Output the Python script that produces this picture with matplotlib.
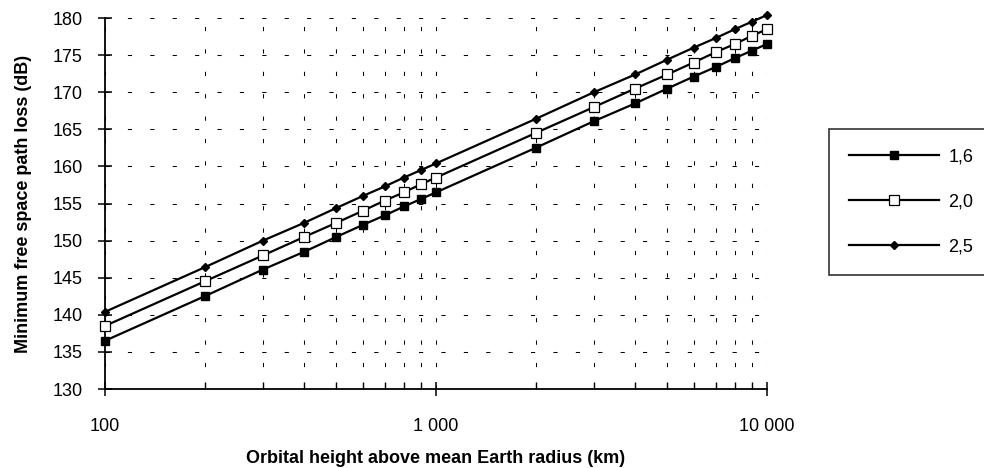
import matplotlib
matplotlib.use("Agg")
import matplotlib.pyplot as plt
from matplotlib.ticker import FixedLocator, FixedFormatter, NullFormatter

plt.rcParams['font.family'] = ['Liberation Sans', 'DejaVu Sans']

heights = [100, 200, 300, 400, 500, 600, 700, 800, 900, 1000,
           2000, 3000, 4000, 5000, 6000, 7000, 8000, 9000, 10000]
loss_16 = [136.5, 142.5, 146.1, 148.5, 150.5, 152.1, 153.4, 154.6, 155.6, 156.5,
           162.5, 166.1, 168.5, 170.5, 172.1, 173.4, 174.6, 175.6, 176.5]
loss_20 = [138.5, 144.5, 148.0, 150.5, 152.4, 154.0, 155.4, 156.5, 157.6, 158.5,
           164.5, 168.0, 170.5, 172.4, 174.0, 175.4, 176.5, 177.6, 178.5]
loss_25 = [140.4, 146.4, 150.0, 152.4, 154.4, 156.0, 157.3, 158.5, 159.5, 160.4,
           166.4, 170.0, 172.4, 174.4, 176.0, 177.3, 178.5, 179.5, 180.4]
series_labels = ["1,6", "2,0", "2,5"]

x_major = [100, 1000, 10000]
x_major_labels = ["100", "1 000", "10 000"]
x_minor = [200, 300, 400, 500, 600, 700, 800, 900,
           2000, 3000, 4000, 5000, 6000, 7000, 8000, 9000]
y_ticks = [130, 135, 140, 145, 150, 155, 160, 165, 170, 175, 180]

fig = plt.figure(figsize=(9.84, 4.68), dpi=100)
ax = fig.add_axes([0.1067, 0.1688, 0.6728, 0.7927])

ax.set_xscale('log')
ax.set_xlim(100, 10000)
ax.set_ylim(130, 180)

grid_style = dict(color='black', linewidth=0.75, linestyle=(0, (4, 17.5)))
ax.xaxis.set_major_locator(FixedLocator(x_major))
ax.xaxis.set_major_formatter(FixedFormatter(x_major_labels))
ax.xaxis.set_minor_locator(FixedLocator(x_minor))
ax.xaxis.set_minor_formatter(NullFormatter())
ax.yaxis.set_major_locator(FixedLocator(y_ticks))
ax.grid(True, which='major', axis='both', **grid_style)
ax.grid(True, which='minor', axis='x', **grid_style)
ax.set_axisbelow(True)

ax.plot(heights, loss_16, color='black', linewidth=1.6, marker='s', markersize=5.3,
        markerfacecolor='black', markeredgecolor='black', label=series_labels[0],
        zorder=3, clip_on=False)
ax.plot(heights, loss_20, color='black', linewidth=1.6, marker='s', markersize=6.8,
        markerfacecolor='white', markeredgecolor='black', markeredgewidth=0.9,
        label=series_labels[1], zorder=3, clip_on=False)
ax.plot(heights, loss_25, color='black', linewidth=1.6, marker='D', markersize=4.3,
        markerfacecolor='black', markeredgecolor='black', label=series_labels[2],
        zorder=3, clip_on=False)

for s in ['top', 'right']:
    ax.spines[s].set_visible(False)
for s in ['left', 'bottom']:
    ax.spines[s].set_linewidth(1.3)

ax.tick_params(axis='x', which='major', direction='inout', length=10, width=1.1,
               labelsize=13, pad=16)
ax.tick_params(axis='x', which='minor', direction='in', length=5, width=1.0)
ax.tick_params(axis='y', which='major', direction='inout', length=10, width=1.1,
               labelsize=13, pad=11)

ax.set_xlabel("Orbital height above mean Earth radius (km)", fontsize=13,
              fontweight='bold', labelpad=11)
ax.set_ylabel("Minimum free space path loss (dB)", fontsize=13,
              fontweight='bold', labelpad=15)

leg = fig.legend(loc='center left', bbox_to_anchor=(829/984, 1 - 202/468),
                 fontsize=13, handlelength=5.0, labelspacing=1.55,
                 borderpad=1.1, handletextpad=0.5, frameon=True, fancybox=False,
                 edgecolor='black', borderaxespad=0)
leg.get_frame().set_linewidth(1.2)

fig.savefig("out.png", dpi=100)
